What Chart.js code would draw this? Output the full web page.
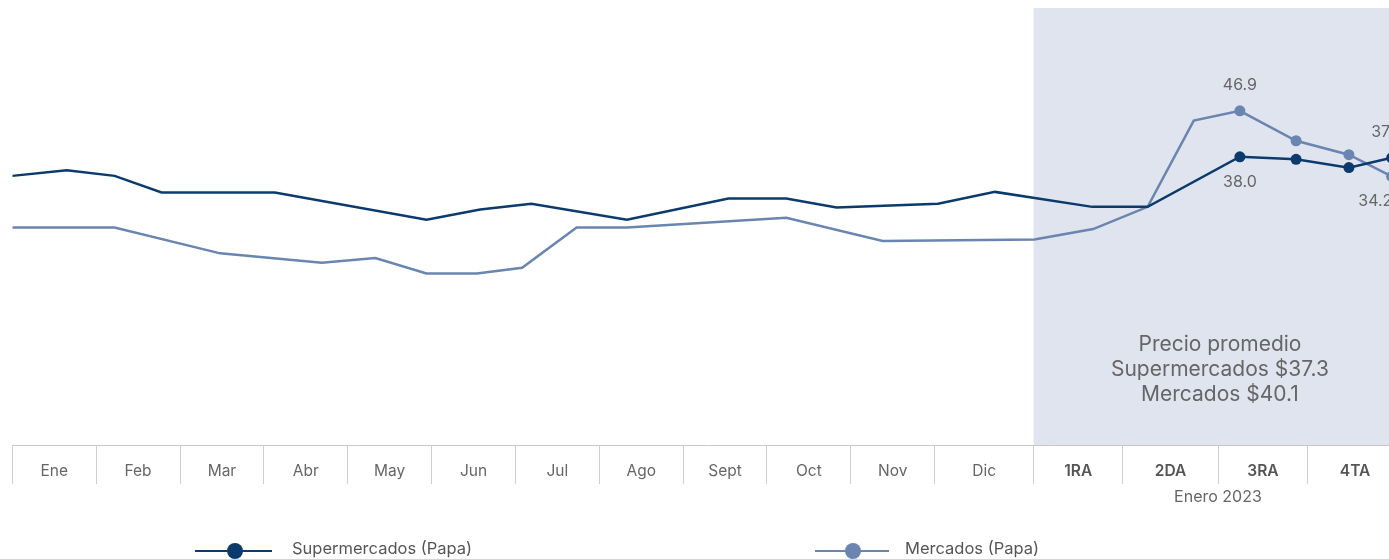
<!DOCTYPE html>
<html><head><meta charset="utf-8">
<script src="https://cdn.jsdelivr.net/npm/chart.js@4.4.1/dist/chart.umd.min.js"></script>
<style>
html,body{margin:0;padding:0;background:#fff;overflow:hidden;width:1389px;height:559px;}
#wrap{position:absolute;left:0;top:0;width:1420px;height:559px;}
#legend{position:absolute;left:0;top:0;width:1389px;height:559px;pointer-events:none;font-family:Inter,"Open Sans",sans-serif;}
.li-icon{position:absolute;top:541px;}
.li-text{position:absolute;top:538px;line-height:20px;font-size:16.5px;color:#555;white-space:nowrap;}
</style></head><body>
<div id="wrap"><canvas id="c" width="1420" height="559"></canvas></div>
<div id="legend"></div>
<script>
// ---- data ----
const categories = ['Ene','Feb','Mar','Abr','May','Jun','Jul','Ago','Sept','Oct','Nov','Dic','1RA','2DA','3RA','4TA'];
// category edges in axis units (months; Dic and the January 2023 weeks are wider)
const boundaries = [0,1,2,3,4,5,6,7,8,9,10,11,12.18,13.245,14.38,15.45,16.577];
const firstWeekCategory = 12;
const periodLabel = 'Enero 2023';
const seriesNames = ['Supermercados (Papa)','Mercados (Papa)'];
const supX = [0,0.65,1.22,1.78,3.13,4.94,5.58,6.19,7.33,8.54,9.23,9.83,11.04,11.72,12.88,13.54,14.64,15.31,15.94,16.45];
const supY = [34.3,35.4,34.3,31.1,31.1,25.8,27.8,28.9,25.8,29.9,29.9,28.2,28.9,31.2,28.3,28.3,38.0,37.5,35.9,37.8];
const merX = [0,1.22,2.48,3.69,4.33,4.94,5.54,6.08,6.73,7.33,9.23,10.38,12.19,12.89,13.54,14.09,14.64,15.31,15.94,16.45];
const merY = [24.3,24.3,19.3,17.5,18.4,15.4,15.4,16.5,24.3,24.3,26.2,21.7,22.0,24.0,28.3,45.0,46.9,41.1,38.4,34.2];
const weeklyPoints = 4;          // last points are the weekly January readings (with markers)
const labelledWeeks = [0, 3];    // which weekly points carry value labels
const summaryLines = ['Precio promedio','Supermercados $37.3','Mercados $40.1'];

// ---- styles ----
const colors = ['#0b3a6d','#6985b0'];
const shadeColor = '#e0e4ef';
const FONT = 'Inter, "Open Sans", sans-serif';

const centers = categories.map((c,i)=>(boundaries[i]+boundaries[i+1])/2);
const isBoundary = v => boundaries.some(b=>Math.abs(b-v)<1e-6);
const labelFor = v => { const i = centers.findIndex(c=>Math.abs(c-v)<1e-6); return i>=0?categories[i]:''; };
const catIndex = v => centers.findIndex(c=>Math.abs(c-v)<1e-6);

const toPts = (xs,ys)=>xs.map((x,i)=>({x, y: ys[i]}));
const series = [toPts(supX,supY), toPts(merX,merY)];

const decor = {
  id:'decor',
  beforeDraw(chart){
    const {ctx, chartArea:a, scales:{x}} = chart;
    const x0 = x.getPixelForValue(boundaries[firstWeekCategory]);
    ctx.save();
    ctx.fillStyle = shadeColor;
    ctx.fillRect(x0, a.top, a.right-x0, a.bottom-a.top);
    const cx = (x0 + a.right)/2;
    ctx.fillStyle = '#666';
    ctx.font = '21px ' + FONT;
    ctx.textAlign = 'center'; ctx.textBaseline = 'middle';
    summaryLines.forEach((t,i)=>ctx.fillText(t, cx + 2, a.bottom - 100 + i*25));
    ctx.font = '16px ' + FONT;
    ctx.fillText(periodLabel, cx, a.bottom + 52);
    ctx.restore();
  },
  afterDatasetsDraw(chart){
    const {ctx, chartArea:a} = chart;
    ctx.save();
    ctx.font = '16px ' + FONT;
    ctx.fillStyle = '#666';
    ctx.textAlign = 'center'; ctx.textBaseline = 'middle';
    chart.data.datasets.forEach((ds,di)=>{
      const meta = chart.getDatasetMeta(di);
      const n = ds.data.length;
      labelledWeeks.forEach(w=>{
        const idx = n - weeklyPoints + w;
        const el = meta.data[idx];
        const other = chart.data.datasets[1-di].data[idx].y;
        const v = ds.data[idx].y;
        const txt = v.toFixed(1);
        const tw = ctx.measureText(txt).width;
        const above = v >= other;
        const px = Math.min(el.x, a.right - tw/2 - (above ? 0 : 10));
        const py = above ? el.y - 26 : el.y + 25;
        ctx.fillText(txt, px, py);
      });
    });
    ctx.restore();
  }
};

const chart = new Chart(document.getElementById('c'), {
  type:'line',
  data:{ datasets: series.map((d,i)=>({
    label: seriesNames[i], data: d, borderColor: colors[i], backgroundColor: colors[i],
    borderWidth: 2.5, tension: 0, fill:false,
    pointRadius: ctx => ctx.dataIndex >= d.length - weeklyPoints ? 5.5 : 0,
    pointBorderWidth: 0, pointHoverRadius: 0
  }))},
  options:{
    responsive:false, animation:false, devicePixelRatio:1,
    layout:{ padding:{ left:12.3, right:17.7, top:8, bottom:0 } },
    plugins:{ legend:{display:false}, tooltip:{enabled:false} },
    scales:{
      x:{
        type:'linear', min: boundaries[0], max: boundaries[boundaries.length-1],
        afterBuildTicks: s => { s.ticks = boundaries.concat(centers).sort((a,b)=>a-b).map(v=>({value:v})); },
        afterFit: s => { s.height = 114; },
        grid:{ drawOnChartArea:false, tickLength:39, lineWidth:1,
          color: c => (c.tick && isBoundary(c.tick.value)) ? '#cfcfcf' : 'rgba(0,0,0,0)' },
        border:{ display:true, color:'#c8c8c8', width:1 },
        ticks:{ autoSkip:false, maxRotation:0, minRotation:0, padding:-22,
          callback: v => labelFor(v),
          font: c => ({ family: FONT, size: 15.5, weight: (c.tick && catIndex(c.tick.value) >= firstWeekCategory) ? '600' : '400' }),
          color: c => (c.tick && catIndex(c.tick.value) >= firstWeekCategory) ? '#555' : '#666' }
      },
      y:{ display:false, min:-17.8, max:66.8 }
    }
  },
  plugins:[decor]
});

// HTML legend built from the datasets
const legendIcon = [{left:195, w:77}, {left:815, w:74}];
const legendTextLeft = [292, 905];
const lg = document.getElementById('legend');
chart.data.datasets.forEach((ds,i)=>{
  const {left, w} = legendIcon[i];
  const svg = `<svg class="li-icon" style="left:${left}px" width="${w}" height="20"><line x1="0" y1="10" x2="${w}" y2="10" stroke="${ds.borderColor}" stroke-width="2"/><circle cx="${Math.round(w/2)+1}" cy="10" r="8" fill="${ds.borderColor}"/></svg>`;
  lg.insertAdjacentHTML('beforeend', svg + `<span class="li-text" style="left:${legendTextLeft[i]}px">${ds.label}</span>`);
});
</script>
</body></html>
